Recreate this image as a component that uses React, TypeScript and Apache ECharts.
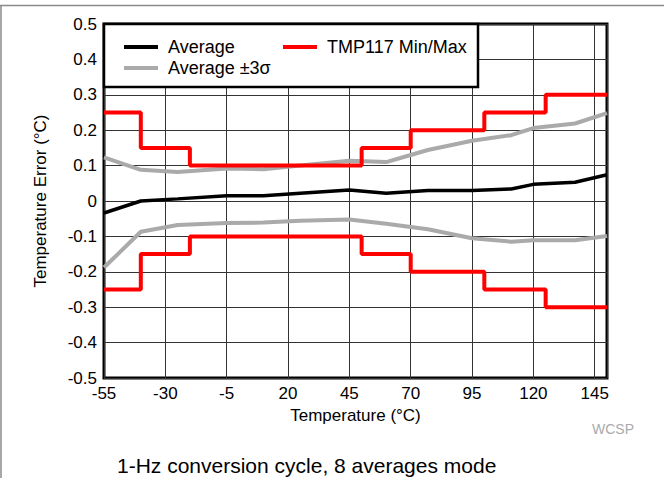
import React, { useEffect, useRef } from "react";
import * as echarts from "echarts";

// Temperature (°C) tick labels
const xTicks = [-55, -30, -5, 20, 45, 70, 95, 120, 145];
const xGrid = [-55, -30, -5, 20, 45, 70, 95, 120, 145, 150];

// Average error
const averageData: [number, number][] = [
  [-55, -0.034], [-40, 0.0], [-25, 0.006], [-5, 0.015], [10, 0.015], [25, 0.022],
  [45, 0.031], [60, 0.022], [77, 0.030], [95, 0.030], [111, 0.034], [120, 0.047],
  [137, 0.053], [150, 0.074],
];

// Average +3 sigma
const upperSigma: [number, number][] = [
  [-55, 0.123], [-40, 0.088], [-25, 0.082], [-5, 0.092], [10, 0.090], [25, 0.100],
  [45, 0.114], [60, 0.110], [70, 0.130], [77, 0.144], [95, 0.170], [111, 0.186],
  [120, 0.206], [137, 0.219], [150, 0.248],
];

// Average -3 sigma
const lowerSigma: [number, number][] = [
  [-55, -0.188], [-40, -0.087], [-25, -0.068], [-5, -0.062], [10, -0.061], [25, -0.056],
  [45, -0.052], [60, -0.064], [77, -0.080], [95, -0.105], [111, -0.115], [120, -0.111],
  [137, -0.111], [150, -0.099],
];

// TMP117 spec limits (step breakpoints)
const specTemps = [-55, -40, -20, 50, 70, 100, 125, 150];
const specMax = [0.25, 0.15, 0.1, 0.15, 0.2, 0.25, 0.3, 0.3];
const specMin = [-0.25, -0.15, -0.1, -0.15, -0.2, -0.25, -0.3, -0.3];

const FONT = "'Liberation Sans', Arial, Helvetica, sans-serif";

export default function App() {
  const ref = useRef<HTMLDivElement>(null);

  useEffect(() => {
    document.body.style.margin = "0";
    const chart = echarts.init(ref.current!, undefined, { renderer: "svg" });
    const maxData = specTemps.map((t, i) => [t, specMax[i]]);
    const minData = specTemps.map((t, i) => [t, specMin[i]]);

    chart.setOption({
      animation: false,
      backgroundColor: "#ffffff",
      textStyle: { fontFamily: FONT },
      grid: {
        left: 104,
        top: 24,
        right: 57,
        bottom: 100,
        show: true,
        borderColor: "#000",
        borderWidth: 3,
        backgroundColor: "transparent",
      },
      xAxis: {
        type: "value",
        min: -55,
        max: 150,
        name: "Temperature (°C)",
        nameLocation: "middle",
        nameGap: 29,
        nameTextStyle: { fontSize: 17, color: "#000", fontFamily: FONT },
        axisLine: { show: false },
        axisTick: { show: false, customValues: xGrid },
        axisLabel: {
          customValues: xTicks,
          fontSize: 17,
          color: "#000",
          margin: 7,
          fontFamily: FONT,
        },
        splitLine: { show: true, lineStyle: { color: "#333333", width: 1 } },
      },
      yAxis: {
        type: "value",
        min: -0.5,
        max: 0.5,
        interval: 0.1,
        name: "Temperature Error (°C)",
        nameLocation: "middle",
        nameGap: 55,
        nameTextStyle: { fontSize: 17, color: "#000", fontFamily: FONT },
        axisLine: { show: false },
        axisTick: { show: false },
        axisLabel: {
          fontSize: 17,
          color: "#000",
          margin: 7,
          fontFamily: FONT,
          formatter: (v: number) => String(Math.round(v * 10) / 10),
        },
        splitLine: { show: true, lineStyle: { color: "#333333", width: 1 } },
      },
      legend: [
        {
          data: ["Average", "Average ±3σ"],
          orient: "vertical",
          left: 119,
          top: 33,
          itemGap: 3,
          icon: "rect",
          itemWidth: 34,
          itemHeight: 4,
          z: 20,
          textStyle: { fontSize: 18, color: "#000", fontFamily: FONT, lineHeight: 18, padding: [0, 0, 0, 5] },
        },
        {
          data: ["TMP117 Min/Max"],
          orient: "vertical",
          left: 278,
          top: 33,
          icon: "rect",
          itemWidth: 34,
          itemHeight: 4,
          z: 20,
          textStyle: { fontSize: 18, color: "#000", fontFamily: FONT, lineHeight: 18, padding: [0, 0, 0, 5] },
        },
      ],
      graphic: [
        {
          type: "rect",
          z: 10,
          shape: { x: 104, y: 24, width: 374, height: 63 },
          style: { fill: "#fff", stroke: "#000", lineWidth: 2.5 },
        },
        {
          type: "line",
          z: 10,
          shape: { x1: 0, y1: 5.5, x2: 664, y2: 5.5 },
          style: { stroke: "#8a8a8a", lineWidth: 1.5 },
        },
        {
          type: "line",
          z: 10,
          shape: { x1: 1, y1: 5, x2: 1, y2: 478 },
          style: { stroke: "#8a8a8a", lineWidth: 1.5 },
        },
        {
          type: "text",
          z: 10,
          x: 613,
          y: 429,
          style: {
            text: "WCSP",
            fill: "#aaaaaa",
            fontSize: 14,
            fontFamily: FONT,
            align: "center",
            verticalAlign: "middle",
          },
        },
        {
          type: "text",
          z: 10,
          x: 117,
          y: 465,
          style: {
            text: "1-Hz conversion cycle, 8 averages mode",
            fill: "#000",
            fontSize: 21,
            fontFamily: FONT,
            align: "left",
            verticalAlign: "middle",
          },
        },
      ],
      series: [
        {
          name: "Average ±3σ",
          type: "line",
          data: upperSigma,
          symbol: "none",
          itemStyle: { color: "#aaaaaa" },
          lineStyle: { color: "#aaaaaa", width: 4 },
          z: 2,
        },
        {
          name: "Average ±3σ",
          type: "line",
          data: lowerSigma,
          symbol: "none",
          itemStyle: { color: "#aaaaaa" },
          lineStyle: { color: "#aaaaaa", width: 4 },
          z: 2,
        },
        {
          name: "Average",
          type: "line",
          data: averageData,
          symbol: "none",
          itemStyle: { color: "#000" },
          lineStyle: { color: "#000", width: 3.5 },
          z: 3,
        },
        {
          name: "TMP117 Min/Max",
          type: "line",
          step: "end",
          data: maxData,
          symbol: "none",
          itemStyle: { color: "#ff0000" },
          lineStyle: { color: "#ff0000", width: 4 },
          z: 4,
        },
        {
          name: "TMP117 Min/Max",
          type: "line",
          step: "end",
          data: minData,
          symbol: "none",
          itemStyle: { color: "#ff0000" },
          lineStyle: { color: "#ff0000", width: 4 },
          z: 4,
        },
      ],
    });
    return () => chart.dispose();
  }, []);

  return (
    <div
      ref={ref}
      style={{ position: "absolute", left: 0, top: 0, width: 664, height: 478 }}
    />
  );
}
